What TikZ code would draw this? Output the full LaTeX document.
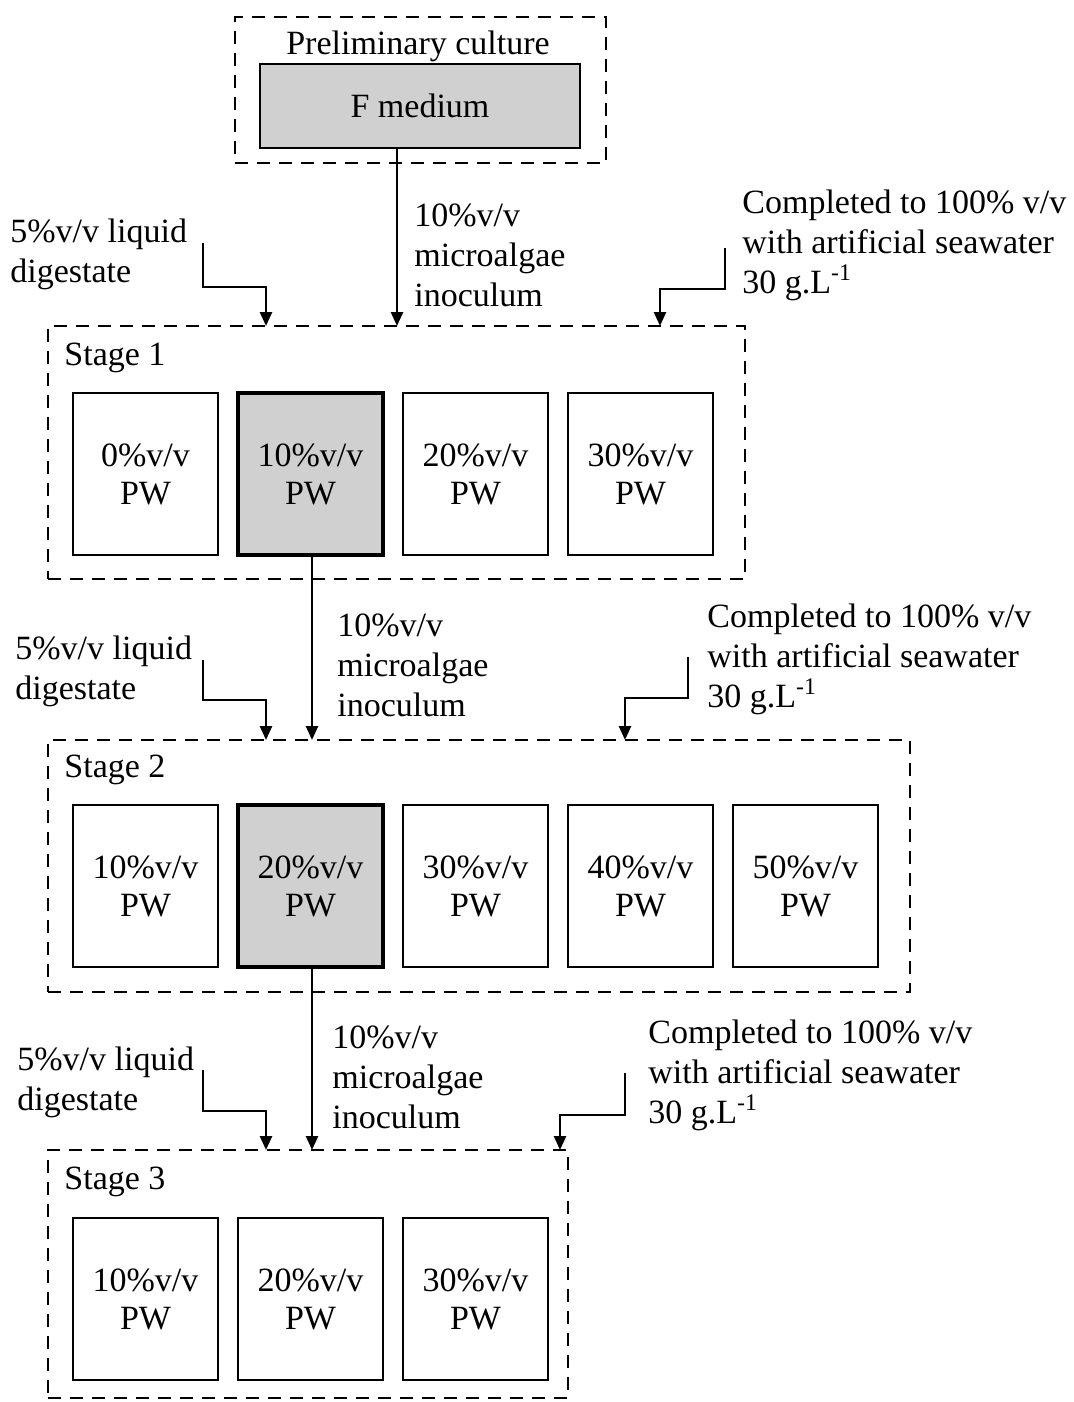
\documentclass[tikz,border=0pt]{standalone}
\usepackage{fontspec}
\setmainfont{Liberation Serif}
\usepackage{tikz}
\usetikzlibrary{arrows.meta, positioning, calc}
\usepackage{xcolor}
\definecolor{boxgray}{RGB}{208,208,208}

\tikzset{
  lbl/.style={font=\fontsize{17pt}{20pt}\selectfont, inner sep=0pt, align=left},
  frame/.style={draw, line width=1.4pt, dash pattern=on 6.5pt off 4.5pt, inner sep=0pt, outer sep=0pt, anchor=north west},
  pwbox/.style={draw, line width=1.1pt, minimum width=72.5pt, minimum height=81pt, inner sep=0pt, align=center, font=\fontsize{17pt}{19pt}\selectfont},
  pwsel/.style={pwbox, fill=boxgray, line width=1.7pt},
  arr/.style={line width=1.3pt, -{Triangle[width=6pt,length=7pt]}}
}

\begin{document}
\begin{tikzpicture}[x=0.5pt, y=-0.5pt]
  \useasboundingbox (0,0) rectangle (1073,1402);

  % preliminary culture
  \node[frame, minimum width=185.5pt, minimum height=73pt] (pre) at (235,17) {};
  \node[lbl] (pretxt) at (418,46) {Preliminary culture};
  \node[draw, line width=1.4pt, fill=boxgray, minimum width=160pt, minimum height=42pt, lbl] (fmed) at (420,106) {F medium};

  % stage frames
  \node[frame, minimum width=348.5pt, minimum height=126.5pt] (stage1) at (48,326) {};
  \node[frame, minimum width=431pt, minimum height=126pt] (stage2) at (48,740) {};
  \node[frame, minimum width=260pt, minimum height=124pt] (stage3) at (48,1150) {};
  \node[lbl, anchor=west] (st1) at (64,358) {Stage 1};
  \node[lbl, anchor=west] (st2) at (64,770) {Stage 2};
  \node[lbl, anchor=west] (st3) at (64,1182) {Stage 3};

  % culture boxes
  \foreach \v [count=\i] in {0,10,20,30}
    \node[pwbox] (sa\i) at ({145.5+(\i-1)*165},474) {\v\%v/v\\PW};
  \foreach \v [count=\i] in {10,20,30,40,50}
    \node[pwbox] (sb\i) at ({145.5+(\i-1)*165},886) {\v\%v/v\\PW};
  \foreach \v [count=\i] in {10,20,30}
    \node[pwbox] (sc\i) at ({145.5+(\i-1)*165},1299) {\v\%v/v\\PW};
  \node[pwsel] at (sa2) {10\%v/v\\PW};
  \node[pwsel] at (sb2) {20\%v/v\\PW};

  % inoculum
  \draw[arr] ([xshift=-11.5pt]fmed.south) -- ([xshift=-11.5pt]fmed.south |- stage1.north);
  \draw[arr] ([xshift=0.75pt]sa2.south) -- ([xshift=0.75pt]sa2.south |- stage2.north);
  \draw[arr] ([xshift=0.75pt]sb2.south) -- ([xshift=0.75pt]sb2.south |- stage3.north);
  \node[lbl, anchor=west] (ino1) at (414,255) {10\%v/v\\microalgae\\inoculum};
  \node[lbl, anchor=west] (ino2) at (337,665) {10\%v/v\\microalgae\\inoculum};
  \node[lbl, anchor=west] (ino3) at (332,1077) {10\%v/v\\microalgae\\inoculum};

  % liquid digestate
  \node[lbl, anchor=west] (dig1) at (10,254) {5\%v/v liquid\\digestate};
  \node[lbl, anchor=west] (dig2) at (15,671) {5\%v/v liquid\\digestate};
  \node[lbl, anchor=west] (dig3) at (17,1082) {5\%v/v liquid\\digestate};
  \coordinate (d1) at (203,243);
  \coordinate (d2) at (203,660);
  \coordinate (d3) at (203,1070);
  \draw[arr] (d1) -- ++(0,44) -- ++(63,0) -- ++(0,39);
  \draw[arr] (d2) -- ++(0,40) -- ++(63,0) -- ++(0,40);
  \draw[arr] (d3) -- ++(0,41) -- ++(63,0) -- ++(0,39);

  % artificial seawater
  \node[lbl, anchor=west] (sea1) at (742,245) {Completed to 100\% v/v\\with artificial seawater\\30 g.L\textsuperscript{-1}};
  \node[lbl, anchor=west] (sea2) at (707,659) {Completed to 100\% v/v\\with artificial seawater\\30 g.L\textsuperscript{-1}};
  \node[lbl, anchor=west] (sea3) at (648,1075) {Completed to 100\% v/v\\with artificial seawater\\30 g.L\textsuperscript{-1}};
  \coordinate (w1) at (725,248);
  \coordinate (w2) at (688,657);
  \coordinate (w3) at (625,1073);
  \draw[arr] (w1) -- ++(0,41) -- ++(-65,0) -- ++(0,37);
  \draw[arr] (w2) -- ++(0,41) -- ++(-63,0) -- ++(0,42);
  \draw[arr] (w3) -- ++(0,42) -- ++(-65,0) -- ++(0,35);
\end{tikzpicture}
\end{document}
